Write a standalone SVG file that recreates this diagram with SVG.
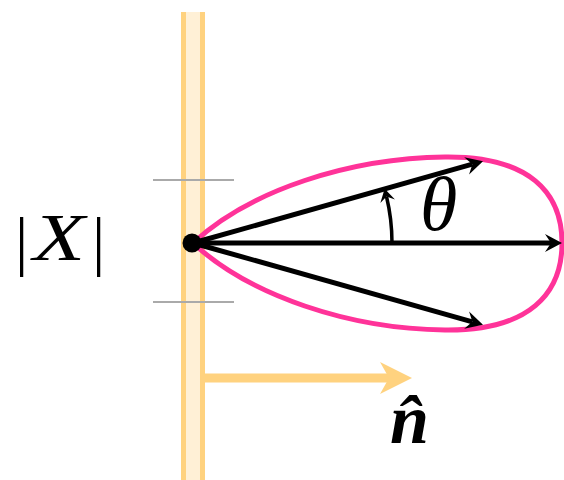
<svg xmlns="http://www.w3.org/2000/svg" width="564" height="480" viewBox="0 0 564 480">
<defs>
<style>
.wallfill{fill:#fff0d6;stroke:none}
.walledge{stroke:#ffd27f;stroke-width:5;fill:none}
.tick{stroke:#aaaaaa;stroke-width:2}
.lobe{fill:none;stroke:#ff3399;stroke-width:5}
.vec{stroke:#000;stroke-width:5;fill:none;marker-end:url(#ah)}
.ang{stroke:#000;stroke-width:3.5;fill:none;marker-end:url(#ahs)}
.math{font-family:"Liberation Serif","Times New Roman",serif;fill:#000}
</style>
<marker id="ah" markerUnits="userSpaceOnUse" viewBox="-7 -10 19 20" markerWidth="19" markerHeight="20" refX="0" refY="0" orient="auto">
<path d="M11,0 L-6,-9 L0,0 L-6,9 Z" fill="#000"/>
</marker>
<marker id="ahs" markerUnits="userSpaceOnUse" viewBox="-6 -8 16 16" markerWidth="16" markerHeight="16" refX="0" refY="0" orient="auto">
<path d="M8,0 L-5,-7.5 L0,0 L-5,7.5 Z" fill="#000"/>
</marker>
</defs>
<g id="wall">
<rect class="wallfill" x="183" y="12" width="20" height="468"/>
<line class="walledge" x1="183.5" y1="12" x2="183.5" y2="480"/>
<line class="walledge" x1="202.5" y1="12" x2="202.5" y2="480"/>
</g>
<g id="ticks">
<line class="tick" x1="153" y1="180" x2="234" y2="180"/>
<line class="tick" x1="153" y1="302" x2="234" y2="302"/>
</g>
<g id="normal">
<line x1="203" y1="378" x2="392" y2="378" stroke="#ffd27f" stroke-width="9"/>
<path d="M412,378 L380,362 L389,378 L380,394 Z" fill="#ffd27f"/>
</g>
<g id="lobe">
<path class="lobe" d="M193,243 C250,190 350,158 445,157 C530,156 562,193 562,243 C562,293 530,331 445,330 C350,329 250,296 193,243 Z"/>
</g>
<g id="connectors">
<line class="vec" x1="193" y1="243" x2="551" y2="243"/>
<line class="vec" x1="193" y1="243" x2="472.4" y2="164.2"/>
<line class="vec" x1="193" y1="243" x2="472.4" y2="321.8"/>
<path class="ang" d="M392,243 A199,199 0 0 0 386.5,196.5"/>
</g>
<g id="source">
<circle cx="192" cy="243" r="9.5" fill="#000"/>
</g>
<g id="labels">
<text class="math" x="15" y="263" font-size="66">|</text>
<text class="math" x="33" y="260" font-size="68" font-style="italic" textLength="52" lengthAdjust="spacingAndGlyphs">X</text>
<text class="math" x="92" y="263" font-size="66">|</text>
<text class="math" x="420" y="230" font-size="76" font-style="italic">θ</text>
<text class="math" x="390" y="443" font-size="70" font-weight="bold" font-style="italic">n̂</text>
</g>
</svg>
